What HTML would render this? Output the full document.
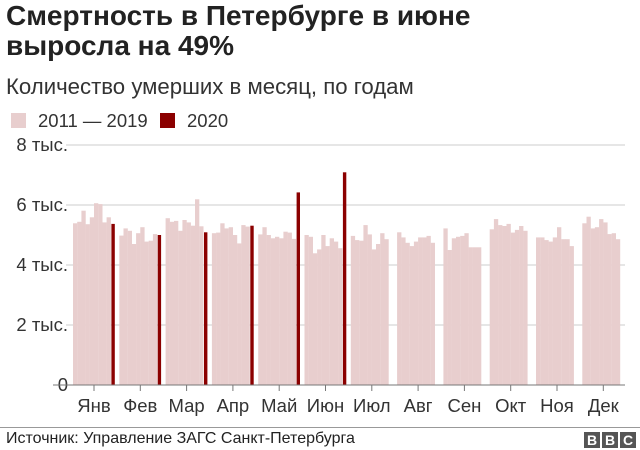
<!DOCTYPE html>
<html><head><meta charset="utf-8"><style>
body{margin:0;width:640px;height:450px;background:#fff;font-family:"Liberation Sans",Arial,sans-serif;overflow:hidden;position:relative}
.t{position:absolute;left:6px;top:1px;font-size:28px;font-weight:bold;line-height:30px;color:#222}
.s{position:absolute;left:6px;top:74px;font-size:22.2px;color:#333}
.lg{position:absolute;top:110px;font-size:18.5px;color:#333}
.sw{position:absolute;top:113px;width:15px;height:15px}
.src{position:absolute;left:6px;top:430px;font-size:16px;color:#222}
.bbc{position:absolute;top:432px;width:16px;height:16px;background:#555;color:#fff;font-weight:bold;font-size:14px;text-align:center;line-height:16px}
</style></head><body>
<div class="t">Смертность в Петербурге в июне<br>выросла на 49%</div>
<div class="s">Количество умерших в месяц, по годам</div>
<div class="sw" style="left:11px;background:#e8cece"></div>
<div class="lg" style="left:38px">2011 — 2019</div>
<div class="sw" style="left:160px;background:#8b0000"></div>
<div class="lg" style="left:187px">2020</div>
<svg id="c" width="640" height="450" style="position:absolute;left:0;top:0"></svg>
<div style="position:absolute;left:0;top:427px;width:640px;height:1px;background:#999"></div>
<div class="src">Источник: Управление ЗАГС Санкт-Петербурга</div>
<div class="bbc" style="left:584px">B</div>
<div class="bbc" style="left:602px">B</div>
<div class="bbc" style="left:620px">C</div>
<script>
const months=["Янв","Фев","Мар","Апр","Май","Июн","Июл","Авг","Сен","Окт","Ноя","Дек"];
const past=[
[5.39,5.44,5.81,5.36,5.59,6.06,6.03,5.42,5.59],
[4.98,5.22,5.14,4.70,5.06,5.26,4.78,4.81,5.03],
[5.56,5.44,5.47,5.14,5.50,5.42,5.31,6.19,5.29],
[5.06,5.08,5.39,5.22,5.26,5.00,4.72,5.33,5.28],
[5.02,5.26,5.00,4.89,4.94,4.89,5.11,5.08,4.87],
[5.00,4.94,4.39,4.52,5.00,4.63,4.89,4.78,4.56],
[4.97,4.83,4.81,5.33,5.02,4.52,4.70,5.06,4.86],
[5.09,4.92,4.74,4.63,4.78,4.92,4.92,4.97,4.74],
[5.22,4.50,4.89,4.94,4.97,5.06,4.59,4.59,4.59],
[5.19,5.53,5.33,5.30,5.37,5.08,5.17,5.30,5.14],
[4.92,4.92,4.83,4.78,4.92,5.26,4.86,4.86,4.63],
[5.39,5.61,5.22,5.26,5.53,5.42,5.03,5.06,4.86]];
const y2020=[5.37,5.00,5.09,5.31,6.42,7.09];
const yTicks=[0,2,4,6,8];
const yTickLabels=["0","2 тыс.","4 тыс.","6 тыс.","8 тыс."];
const NS="http://www.w3.org/2000/svg",svg=document.getElementById('c');
const y=v=>385-v*30, gx=i=>73+46.3*i, SW=4.2;
function mk(t,a){const e=document.createElementNS(NS,t);for(const k in a)e.setAttribute(k,a[k]);svg.appendChild(e);return e;}
yTicks.forEach((v,i)=>{
 if(v>0){const l=mk('line',{x1:66,x2:625,y1:y(v),y2:y(v),stroke:'#ccc','stroke-width':1});
 
 }
 const t=mk('text',{x:68,y:y(v)+6,'text-anchor':'end','font-size':18.5,fill:'#333'});t.textContent=yTickLabels[i];
 
 
});
past.forEach((g,i)=>{g.forEach((v,j)=>{
 const r=mk('rect',{x:gx(i)+j*SW,y:y(v),width:SW+0.1,height:385-y(v),fill:'#e8cece'});
 
 
});});
y2020.forEach((v,i)=>{
 const r=mk('rect',{x:gx(i)+9*SW+0.6,y:y(v),width:3.4,height:385-y(v),fill:'#8b0000'});
 
 
});
const ax=mk('line',{x1:53,x2:625,y1:385,y2:385,stroke:'#777','stroke-width':1});


months.forEach((m,i)=>{
 const c=gx(i)+21;
 const tk=mk('line',{x1:c,x2:c,y1:385,y2:391,stroke:'#777'});
 
 
 const t=mk('text',{x:c,y:412,'text-anchor':'middle','font-size':18.5,fill:'#333'});t.textContent=m;
 
 
});
</script>
</body></html>
